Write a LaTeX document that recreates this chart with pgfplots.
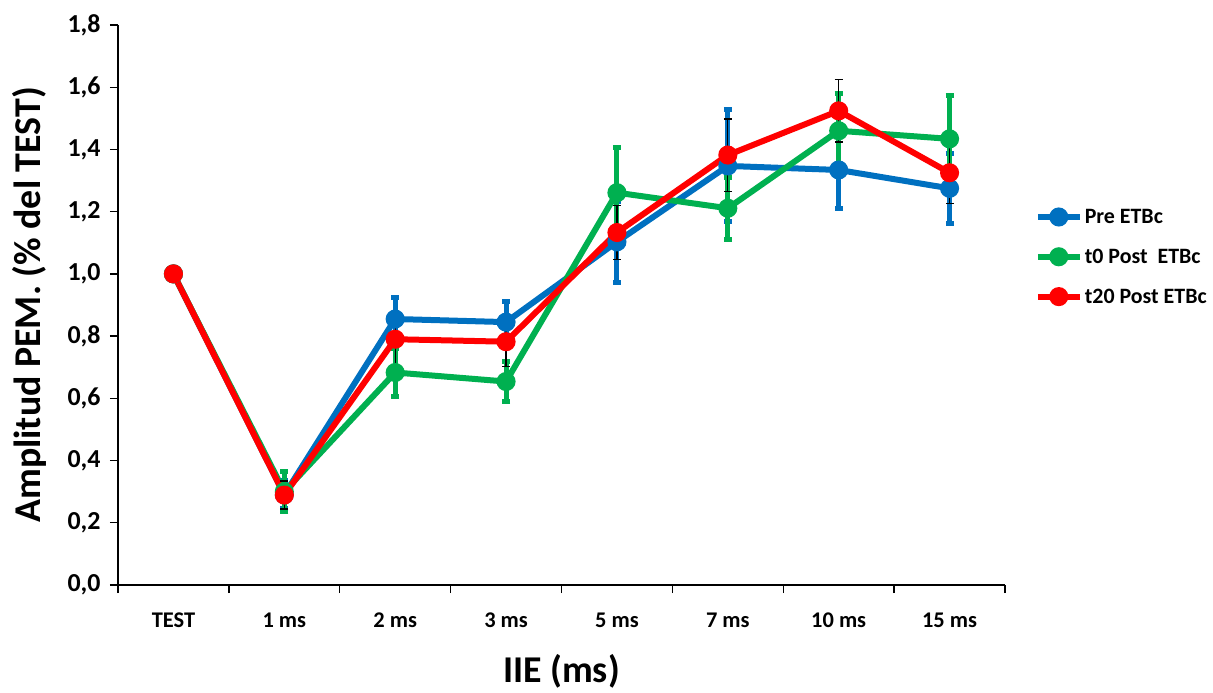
\documentclass[border=0pt]{standalone}
\usepackage{fontspec}
\setmainfont{Carlito}
\usepackage{pgfplots}
\pgfplotsset{compat=1.18}
\definecolor{cblue}{HTML}{0070C0}
\definecolor{cgreen}{HTML}{00B050}
\definecolor{cred}{HTML}{FF0000}
\begin{document}
\begin{tikzpicture}
\path (0,0) rectangle (1213bp,693bp);
\begin{axis}[
  at={(118bp,108bp)}, anchor=south west,
  scale only axis, width=887bp, height=560bp,
  xmin=-0.5, xmax=7.5, ymin=0, ymax=1.8,
  axis lines*=left,
  axis line style={line width=1.6bp, black},
  tick align=outside, tick pos=left,
  major tick length=8bp,
  tick style={line width=1.4bp, black},
  xtick={-0.5,0.5,...,7.5}, xticklabels={,,,,,,,,},
  extra x ticks={0,1,2,3,4,5,6,7},
  extra x tick labels={TEST,1 ms,2 ms,3 ms,5 ms,7 ms,10 ms,15 ms},
  extra x tick style={tick style={draw=none}, xticklabel style={yshift=-16bp}},
  ytick={0,0.2,...,1.8},
  /pgf/number format/assume math mode=true,
  xticklabel style={font=\bfseries\fontsize{22.5}{26}\selectfont},
  yticklabel style={font=\bfseries\fontsize{26}{30}\selectfont, xshift=-6bp,
    /pgf/number format/.cd, fixed, fixed zerofill, precision=1, use comma},
  xlabel={IIE (ms)},
  ylabel={Amplitud PEM. (\% del TEST)},
  label style={font=\bfseries\fontsize{38}{42}\selectfont},
  xlabel style={yshift=-12bp},
  ylabel style={yshift=14bp},
  legend style={at={(1.03,0.586)}, anchor=west, draw=none, fill=none,
    font=\bfseries\fontsize{22}{26}\selectfont, row sep=20bp},
  legend cell align=left,
  legend image code/.code={\draw[mark repeat=2,mark phase=2,#1] plot coordinates {(0bp,0bp) (21bp,0bp) (42bp,0bp)};},
]
\addplot[cblue, line width=6bp, mark=*, mark size=6.5bp, mark options={solid},
  error bars/.cd, y dir=both, y explicit,
  error bar style={cblue, line width=5bp},
  error mark options={rotate=90, cblue, mark size=4bp, line width=5bp}]
coordinates {(0,1.0)+-(0,0) (1,0.29)+-(0,0.045) (2,0.855)+-(0,0.068) (3,0.845)+-(0,0.066) (4,1.103)+-(0,0.13) (5,1.347)+-(0,0.18) (6,1.334)+-(0,0.123) (7,1.275)+-(0,0.113)};
\addlegendentry{Pre ETBc}
\addplot[cgreen, line width=6bp, mark=*, mark size=6.5bp, mark options={solid},
  error bars/.cd, y dir=both, y explicit,
  error bar style={cgreen, line width=5bp},
  error mark options={rotate=90, cgreen, mark size=4bp, line width=5bp}]
coordinates {(0,1.0)+-(0,0) (1,0.30)+-(0,0.065) (2,0.683)+-(0,0.077) (3,0.654)+-(0,0.065) (4,1.261)+-(0,0.146) (5,1.211)+-(0,0.10) (6,1.46)+-(0,0.12) (7,1.434)+-(0,0.138)};
\addlegendentry{t0 Post\ \ ETBc}
\addplot[cred, line width=6bp, mark=*, mark size=6.5bp, mark options={solid},
  error bars/.cd, y dir=both, y explicit,
  error bar style={black, line width=1.2bp},
  error mark options={rotate=90, black, mark size=4bp, line width=1.2bp}]
coordinates {(0,1.0)+-(0,0) (1,0.289)+-(0,0.045) (2,0.790)+-(0,0.087) (3,0.782)+-(0,0.08) (4,1.133)+-(0,0.087) (5,1.382)+-(0,0.116) (6,1.524)+-(0,0.10) (7,1.325)+-(0,0.10)};
\addlegendentry{t20 Post ETBc}
\end{axis}
\end{tikzpicture}
\end{document}
